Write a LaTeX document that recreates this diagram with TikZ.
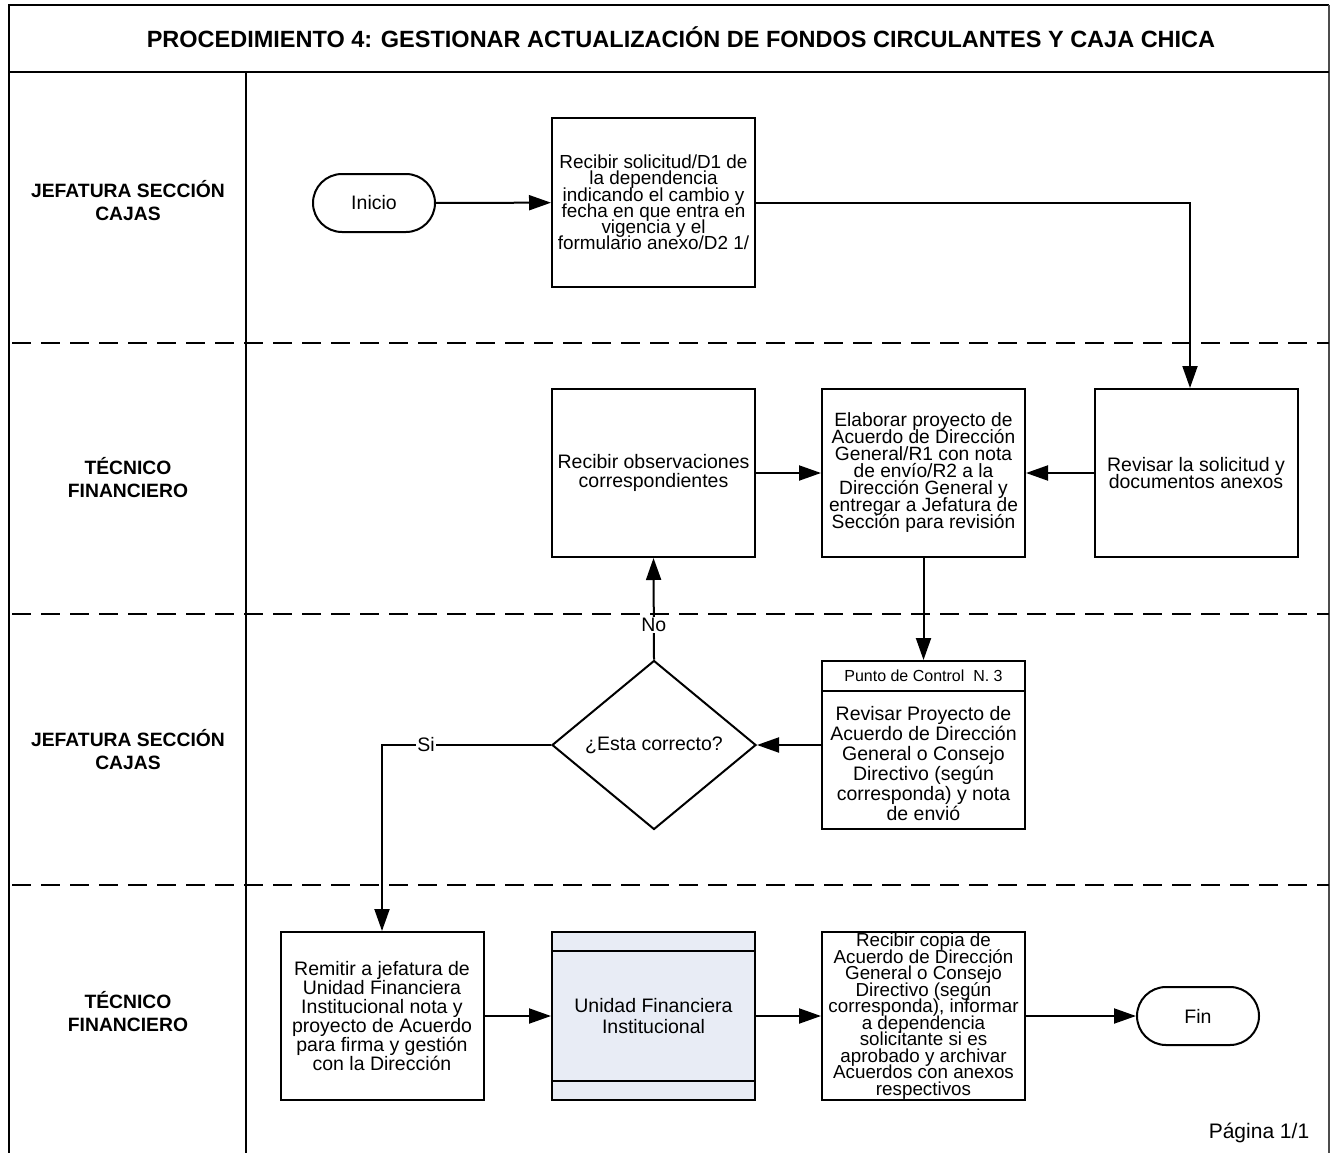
\documentclass[tikz,border=0pt]{standalone}
\usepackage{fontspec}
\setmainfont{Liberation Sans}
\usetikzlibrary{arrows.meta,shapes.geometric}
\definecolor{subfill}{RGB}{232,236,245}
% font size and exact line pitch (tight pitches are kept, no extra lineskip)
\newcommand\tsz[2]{\fontsize{#1}{#2}\selectfont\lineskiplimit=-100pt\lineskip=0pt}

\begin{document}
\begin{tikzpicture}[x=1pt,y=-1pt,line width=2pt,
  frame/.style={line width=2.6pt},
  lanesep/.style={line width=2.4pt,dash pattern=on 19pt off 10pt},
  lanelabel/.style={align=center,font=\bfseries\tsz{19.3}{23},inner sep=0pt},
  task/.style={draw,minimum width=203pt,minimum height=168pt,align=center,inner sep=0pt},
  terminal/.style={draw,rounded corners=29pt,minimum width=122pt,minimum height=58pt,
    inner sep=0pt,font=\tsz{19.5}{20}},
  decision/.style={draw,diamond,minimum width=204pt,minimum height=169pt,inner sep=0pt,
    font=\tsz{19.5}{20}},
  flow/.style={-{Triangle[length=22pt,width=15pt]}},
  lbl/.style={fill=white,inner sep=1pt,font=\tsz{19.5}{20}}
]
\useasboundingbox (0,0) rectangle (1330,1153);

% frame, title band and lane column
\draw[frame] (9,1153) -- (9,5) -- (1329,5);
\draw[line width=1.5pt,black!70] (1329,5) -- (1329,1153);
\draw[frame] (9,72) -- (1329,72);
\draw[frame] (246,72) -- (246,1153);
\node[font=\bfseries\tsz{23.5}{26},inner sep=0pt] (title) at (681,37)
  {PROCEDIMIENTO 4: GESTIONAR ACTUALIZACIÓN DE FONDOS CIRCULANTES Y CAJA CHICA};

% lane separators
\draw[lanesep] (12,343) -- (1329,343);
\draw[lanesep] (12,614) -- (1329,614);
\draw[lanesep] (12,885) -- (1329,885);

% lane labels
\node[lanelabel] (lane1) at (128,201) {JEFATURA SECCIÓN\\CAJAS};
\node[lanelabel] (lane2) at (128,478) {TÉCNICO\\FINANCIERO};
\node[lanelabel] (lane3) at (128,750) {JEFATURA SECCIÓN\\CAJAS};
\node[lanelabel] (lane4) at (128,1012) {TÉCNICO\\FINANCIERO};

% lane 1
\node[terminal] (ini) at (374,203) {Inicio};
\node[task,font=\tsz{18.9}{16.2}] (b1) at (653.5,202.5)
  {Recibir solicitud/D1 de\\la dependencia\\indicando el cambio y\\fecha en que entra en\\vigencia y el\\formulario anexo/D2 1/};

% lane 2
\node[task,font=\tsz{19.5}{17.5}] (rev) at (1196,473)
  {Revisar la solicitud y\\documentos anexos};
\node[task,font=\tsz{19.2}{17}] (elab) at (923.5,473)
  {Elaborar proyecto de\\Acuerdo de Dirección\\General/R1 con nota\\de envío/R2 a la\\Dirección General y\\entregar a Jefatura de\\Sección para revisión};
\node[task,font=\tsz{19.5}{19}] (obs) at (653.5,473)
  {Recibir observaciones\\correspondientes};

% lane 3
\node[decision] (dec) at (654,745) {¿Esta correcto?};
\node[task] (ctrl) at (923.5,745) {};
\draw (ctrl.north west) ++(0,-31pt) coordinate (ctrlsep) -- (ctrlsep -| ctrl.east);
\node[font=\tsz{16}{17},inner sep=0pt] (ctrlhead) at (923.5,676) {Punto de Control\ \ N. 3};
\node[font=\tsz{19.5}{20},align=center,inner sep=0pt] (ctrlbody) at (923.5,764)
  {Revisar Proyecto de\\Acuerdo de Dirección\\General o Consejo\\Directivo (según\\corresponda) y nota\\de envió};

% lane 4
\node[task,font=\tsz{19.5}{19}] (rem) at (382,1016)
  {Remitir a jefatura de\\Unidad Financiera\\Institucional nota y\\proyecto de Acuerdo\\para firma y gestión\\con la Dirección};
\node[task,fill=subfill,font=\tsz{19.5}{21.5}] (ufi) at (653.5,1016)
  {Unidad Financiera\\Institucional};
\draw ([yshift=-20pt]ufi.north west) -- ([yshift=-20pt]ufi.north east);
\draw ([yshift=20pt]ufi.south west) -- ([yshift=20pt]ufi.south east);
\node[task,inner ysep=-4pt,font=\tsz{18.8}{16.5}] (copia) at (923.5,1016)
  {Recibir copia de\\Acuerdo de Dirección\\General o Consejo\\Directivo (según\\corresponda), informar\\a dependencia\\solicitante si es\\aprobado y archivar\\Acuerdos con anexos\\respectivos};
\node[terminal] (fin) at (1198,1016) {Fin};

\node[font=\tsz{21}{22},inner sep=0pt] (pag) at (1259,1133) {Página 1/1};

% connectors
\draw[flow] (ini) -- (b1);
\draw[flow] (b1.east) -| ([xshift=-6pt]rev.north);
\draw[flow] (rev) -- (elab);
\draw[flow] (obs) -- (elab);
\draw[flow] (elab) -- (ctrl);
\draw[flow] (ctrl.west) -- (dec.east);
\draw[flow] (dec.north) -- node[lbl,pos=0.34] {No} (obs.south);
\draw[flow] (dec.west) -| node[lbl,pos=0.37] {Si} (rem.north);
\draw[flow] (rem) -- (ufi);
\draw[flow] (ufi) -- (copia);
\draw[flow] (copia) -- (fin);
\end{tikzpicture}
\end{document}
